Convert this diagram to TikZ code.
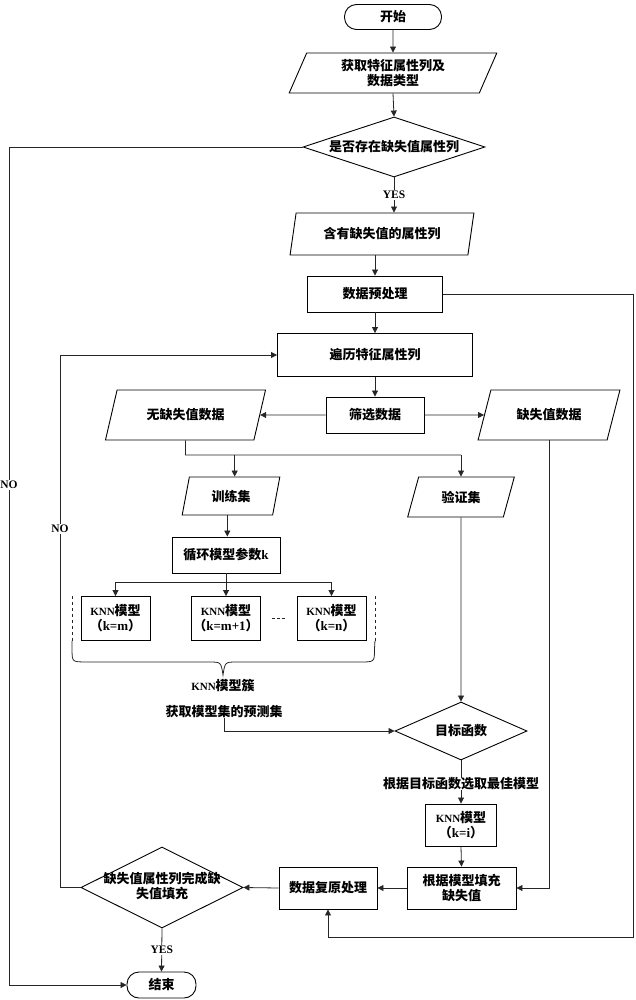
\documentclass[tikz,border=0pt]{standalone}
\usepackage{fontspec}
\setmainfont{Noto Sans CJK SC}
\newfontfamily\lat{Liberation Serif}
\newcommand\knf{\lat\bfseries\fontsize{11pt}{13pt}\selectfont}
\usetikzlibrary{shapes.geometric,arrows.meta,calc}
\begin{document}
\begin{tikzpicture}[x=1pt,y=-1pt,
  every node/.style={font=\bfseries\fontsize{13pt}{15pt}\selectfont, inner sep=0pt, align=center},
  box/.style={draw, line width=0.9pt, rectangle},
  term/.style={draw, line width=0.9pt, rectangle, rounded corners=12pt},
  para/.style={draw, line width=0.9pt, trapezium, trapezium stretches=true},
  dia/.style={draw, line width=0.9pt, diamond},
  conn/.style={draw=black!85, line width=0.8pt},
  arr/.style={conn, -{Triangle[length=6pt,width=6pt]}},
  lbl/.style={font=\lat\bfseries\fontsize{11.5pt}{13pt}\selectfont, fill=white, inner sep=1pt}
]
\useasboundingbox (0,0) rectangle (635,1000);

% nodes
\node[term, minimum width=97pt, minimum height=25pt] (start) at (393,17) {开始};
\node[para, trapezium left angle=69, trapezium right angle=111, minimum width=208pt, minimum height=40pt] (p1) at (393,73) {获取特征属性列及\\数据类型};
\node[dia, minimum width=182pt, minimum height=60pt] (d1) at (394,147) {\makebox[0pt]{是否存在缺失值属性列}};
\node[para, trapezium left angle=72, trapezium right angle=108, minimum width=184pt, minimum height=42pt] (p2) at (382,234) {含有缺失值的属性列};
\node[box, minimum width=135pt, minimum height=36pt] (pre) at (375,294) {数据预处理};
\node[box, minimum width=195pt, minimum height=43pt] (trav) at (375,355) {遍历特征属性列};
\node[box, minimum width=98pt, minimum height=36pt] (filt) at (375,415) {筛选数据};
\node[para, trapezium left angle=62, trapezium right angle=118, minimum width=161pt, minimum height=50pt] (nomiss) at (185.5,415) {无缺失值数据};
\node[para, trapezium left angle=60, trapezium right angle=120, minimum width=142pt, minimum height=50pt] (miss) at (549,415) {缺失值数据};
\node[para, trapezium left angle=75, trapezium right angle=105, minimum width=98pt, minimum height=38pt] (train) at (231,496) {训练集};
\node[para, trapezium left angle=68, trapezium right angle=112, minimum width=107pt, minimum height=40pt] (val) at (461,497) {验证集};
\node[box, minimum width=108pt, minimum height=36pt] (loop) at (226,555) {循环模型参数{\lat\bfseries k}};
\node[box, minimum width=69pt, minimum height=44pt] (knn1) at (115.5,618.5) {{\knf KNN}模型\\（{\lat k=m}）};
\node[box, minimum width=69pt, minimum height=44pt] (knn2) at (226,618.5) {{\knf KNN}模型\\（{\lat k=m+1}）};
\node[box, minimum width=69pt, minimum height=44pt] (knn3) at (331.5,618.5) {{\knf KNN}模型\\（{\lat k=n}）};
\node (clus) at (223,686) {{\knf KNN}模型簇};
\node (pred) at (224,712) {获取模型集的预测集};
\node[dia, minimum width=132pt, minimum height=58pt] (obj) at (461,731) {\makebox[0pt]{目标函数}};
\node (choose) at (461,784) {根据目标函数选取最佳模型};
\node[box, minimum width=71pt, minimum height=42pt] (knni) at (461,825) {{\knf KNN}模型\\（{\lat\bfseries k=i}）};
\node[box, minimum width=109pt, minimum height=42pt] (fill) at (461.5,888) {根据模型填充\\缺失值};
\node[box, minimum width=98pt, minimum height=42pt] (restore) at (328,888) {数据复原处理};
\node[dia, minimum width=162pt, minimum height=81pt] (d2) at (162,887.5) {\makebox[0pt]{\begin{tabular}{@{}c@{}}缺失值属性列完成缺\\失值填充\end{tabular}}};
\node[term, minimum width=69pt, minimum height=26pt] (end) at (161.5,985) {结束};

% coordinates
\coordinate (nlb) at (9,985);
\coordinate (nla) at (60,887.5);
\coordinate (rc) at (633,937);
\coordinate (sp) at (185.5,455);
\coordinate (bus) at (226,582);
\coordinate (tip) at (223,675);
\coordinate (bl) at ([xshift=-8.5pt]knn1.south west);
\coordinate (br) at ([xshift=8.5pt]knn3.south east);

% connectors
\draw[arr] (start.south) -- (p1.north);
\draw[arr] (p1.south) -- (d1.north);
\draw[arr] (d1.south) -- (d1.south |- p2.north) node[lbl, midway] (yes1) {YES};
\draw[arr] (d1.west) -| (nlb) -- (end.west);
\node[lbl] (no1) at (9,485) {NO};
\draw[arr] (pre.north |- p2.south) -- (pre.north);
\draw[arr] (pre.east) -| (rc) -| (restore.south);
\draw[arr] (pre.south) -- (trav.north);
\draw[arr] (trav.south) -- (filt.north);
\draw[arr] (filt.west) -- (nomiss.east);
\draw[arr] (filt.east) -- (miss.west);
\draw[conn] (nomiss.south) -- (sp) -- (sp -| val.north);
\draw[arr] (sp -| val.north) -- (val.north);
\draw[arr] (sp -| train.top side) -- (train.top side);
\draw[arr] (train.bottom side) -- (train.bottom side |- loop.north);
\draw[conn] (loop.south) -- (bus);
\draw[arr] (bus) -| (knn1.north);
\draw[arr] (bus) -| (knn3.north);
\draw[arr] (bus) -- (knn2.north);
\draw[conn, dash pattern=on 3pt off 2pt] ([xshift=11pt]knn2.east) -- ([xshift=-10pt]knn3.west);
% brace
\draw[conn, dashed] ([xshift=-8.5pt]knn1.north west) -- (bl);
\draw[conn, dashed] ([xshift=8.5pt]knn3.north east) -- (br);
\draw[conn] (bl) -- ++(0,8) .. controls +(0,13) .. ++(14,13) -- (209,662)
  .. controls (221,662) .. (tip) .. controls (225,662) .. (237,662) -- (360,662)
  .. controls (374.5,662) .. (374.5,649) -- (br);
\draw[arr] (pred.south) |- (obj.west);
\draw[arr] (val.south) -- (obj.north);
\draw[conn] (obj.south) -- (choose.north);
\draw[arr] (choose.south) -- (knni.north);
\draw[arr] (knni.south) -- (fill.north);
\draw[arr] (miss.south) |- (fill.east);
\draw[arr] (fill.west) -- (restore.east);
\draw[arr] (restore.west) -- (d2.east);
\draw[arr] (d2.west) -- (nla) |- (trav.west);
\node[lbl] (no2) at (60,529) {NO};
\draw[arr] (d2.south) -- (end.north) node[lbl, midway] (yes2) {YES};
\end{tikzpicture}
\end{document}
